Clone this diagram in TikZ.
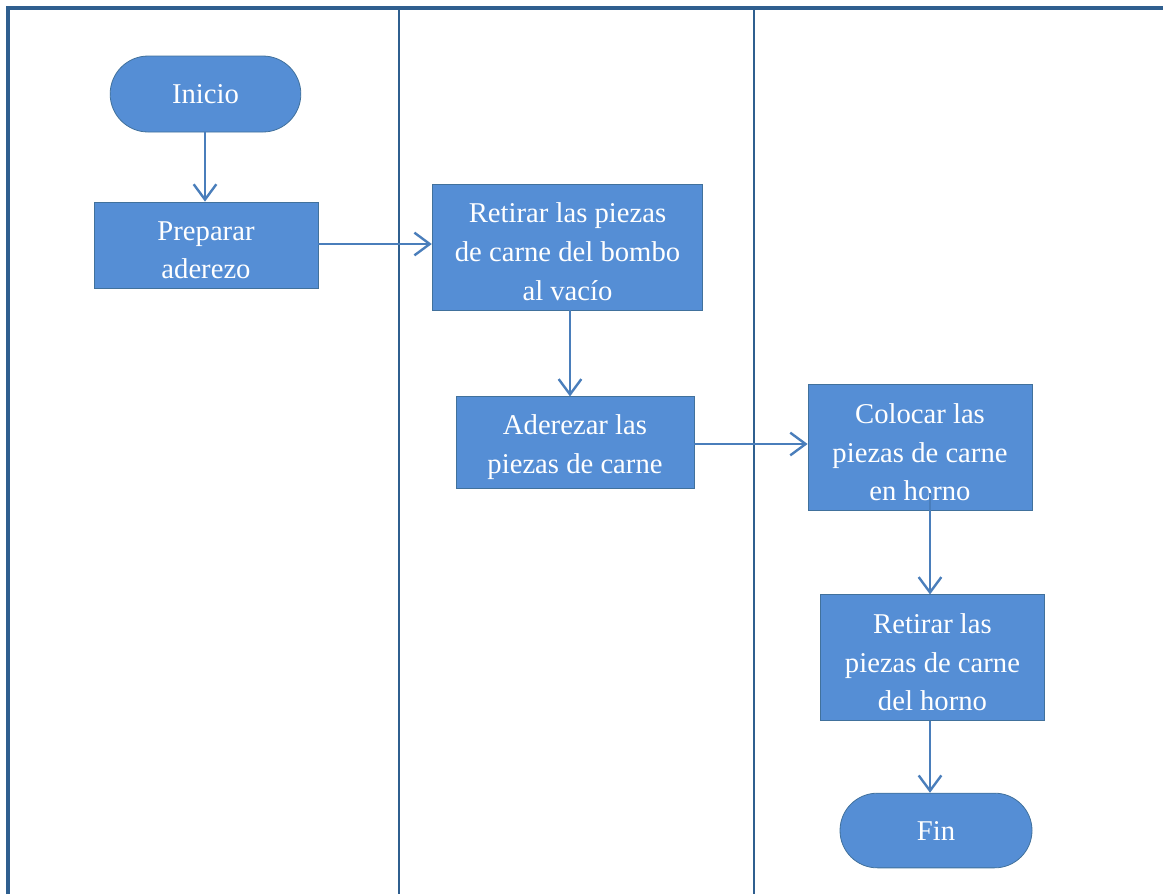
\documentclass[tikz,border=0pt]{standalone}
\usepackage{fontspec}
\setmainfont{Liberation Serif}
\usetikzlibrary{arrows.meta,shapes.misc}
\definecolor{boxfill}{HTML}{558ED5}
\definecolor{boxline}{HTML}{41719C}
\definecolor{lane}{HTML}{2F5F8F}
\definecolor{arr}{HTML}{4A7EBB}
\newcommand\upstrut{\rule{0pt}{22pt}}
\begin{document}
\begin{tikzpicture}[x=0.75pt,y=-0.75pt,
  box/.style={draw=boxline,line width=0.6pt,fill=boxfill,text=white,align=center,inner sep=0pt,
    font=\fontsize{21.5}{29}\selectfont},
  term/.style={box,rounded rectangle},
  conn/.style={draw=arr,line width=2.1pt,-{Straight Barb[length=11.5pt,width=17pt,line width=1.8pt]}},
  laneline/.style={draw=lane,line width=1.7pt}]
\useasboundingbox (0,0) rectangle (1163,894);
% lanes
\draw[laneline,line width=2.5pt] (8,894) -- (8,8) -- (1163,8);
\draw[laneline] (399,8) -- (399,894);
\draw[laneline] (754,8) -- (754,894);
% nodes
\node[term,minimum width=143pt,minimum height=57pt] (inicio) at (205.5,94) {Inicio};
\node[box,minimum width=168pt,minimum height=64.5pt] (prep) at (206,245) {\upstrut Preparar\\aderezo};
\node[box,minimum width=203pt,minimum height=94.5pt] (retb) at (567.5,247) {\upstrut Retirar las piezas\\de carne del bombo\\al vacío};
\node[box,minimum width=178.5pt,minimum height=68.5pt] (ader) at (575,442.5) {\upstrut Aderezar las\\piezas de carne};
\node[box,minimum width=168pt,minimum height=95pt] (coloc) at (920,447.5) {\upstrut Colocar las\\piezas de carne\\en horno};
\node[box,minimum width=168.5pt,minimum height=94pt] (reth) at (932.5,657.5) {\upstrut Retirar las\\piezas de carne\\del horno};
\node[term,minimum width=144pt,minimum height=56pt] (fin) at (936,830.5) {Fin};
% connectors
\coordinate (cstart) at (930,493);
\draw[conn] (inicio.south -| 205,0) -- (prep.north -| 205,0);
\draw[conn] (prep.east |- 0,244) -- (retb.west |- 0,244);
\draw[conn] (retb.south -| 570,0) -- (ader.north -| 570,0);
\draw[conn] (ader.east |- 0,444) -- (coloc.west |- 0,444);
\draw[conn] (cstart) -- (reth.north -| 930,0);
\draw[conn] (reth.south -| 930,0) -- (fin.north -| 930,0);
\end{tikzpicture}
\end{document}
